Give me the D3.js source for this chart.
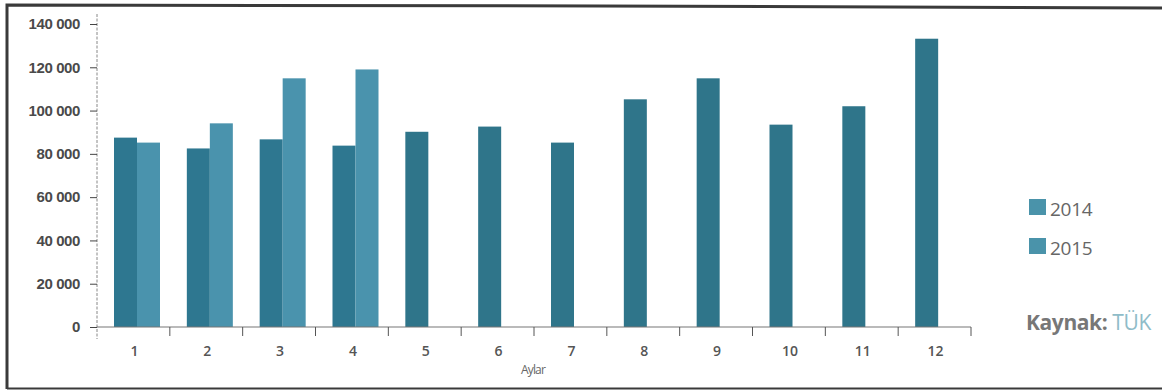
<!DOCTYPE html>
<html>
<head>
<meta charset="utf-8">
<script src="https://cdn.jsdelivr.net/npm/d3@7/dist/d3.min.js"></script>
<style>
  html, body { margin: 0; padding: 0; background: #fff; }
  svg { display: block; font-family: "Open Sans", "DejaVu Sans", sans-serif; }
</style>
</head>
<body>
<svg id="chart" width="1162" height="391"></svg>
<script>
// Monthly figures, 2014 and 2015 (2015 available through April)
const months = ["1", "2", "3", "4", "5", "6", "7", "8", "9", "10", "11", "12"];
const years = ["2014", "2015"];
const values2014 = [87500, 82500, 86700, 83800, 90200, 92600, 85200, 105200, 114900, 93500, 102000, 133200];
const values2015 = [85200, 94100, 114900, 119000, null, null, null, null, null, null, null, null];
const yTicks = [0, 20000, 40000, 60000, 80000, 100000, 120000, 140000];

const colors = { "2014": "#2e7790", "2015": "#4a93ad", single: "#2f758a", legend: "#4a93aa" };

const svg = d3.select("#chart");

// page frame
svg.append("path")
  .attr("d", "M7,389 L7,5 L600,6 L1162,8")
  .attr("fill", "none").attr("stroke", "#3a3a3a").attr("stroke-width", 3);
svg.append("line")
  .attr("x1", 7).attr("x2", 1162).attr("y1", 388.5).attr("y2", 388.5)
  .attr("stroke", "#3a3a3a").attr("stroke-width", 2);

const plot = { left: 97, right: 971, top: 24, bottom: 327 };

const x0 = d3.scaleBand().domain(months).range([plot.left, plot.right]).padding(0);
const x1 = d3.scaleBand().domain(years).range([17, 63]);
const y = d3.scaleLinear().domain([0, 140000]).range([plot.bottom, plot.top]);

const rows = months.map((m, i) => ({ m, v2014: values2014[i], v2015: values2015[i] }));

// bars
const g = svg.append("g");
rows.forEach(r => {
  const paired = r.v2015 != null;
  years.forEach(yr => {
    const v = yr === "2014" ? r.v2014 : r.v2015;
    if (v == null) return;
    g.append("rect")
      .attr("x", x0(r.m) + x1(yr))
      .attr("y", y(v))
      .attr("width", x1.bandwidth())
      .attr("height", y(0) - y(v))
      .attr("fill", paired ? colors[yr] : colors.single);
  });
});

// y axis
const yAxis = svg.append("g")
  .attr("transform", `translate(${plot.left},0)`)
  .call(d3.axisLeft(y).tickValues(yTicks).tickSize(7).tickPadding(10)
    .tickFormat(d => d === 0 ? "0" : d3.format(",")(d).replace(/,/g, " ")));
yAxis.select(".domain").attr("stroke", "#888").attr("stroke-dasharray", "3,1.5")
  .attr("d", `M0,${plot.top - 10}V${plot.bottom + 12}`);
yAxis.selectAll(".tick line").attr("stroke", "#444");
yAxis.selectAll("text").attr("fill", "#4a4a4a").attr("font-size", 15).attr("font-weight", 600)
  .attr("letter-spacing", -0.4);

// x axis line with boundary ticks
const xg = svg.append("g");
xg.append("line")
  .attr("x1", plot.left).attr("x2", plot.right)
  .attr("y1", plot.bottom).attr("y2", plot.bottom)
  .attr("stroke", "#777").attr("stroke-width", 1.2);
months.forEach((m, i) => {
  const xb = x0(m) + x0.step();
  xg.append("line")
    .attr("x1", xb).attr("x2", xb)
    .attr("y1", plot.bottom).attr("y2", plot.bottom + 9)
    .attr("stroke", "#555");
});
xg.selectAll("text.month").data(months).join("text")
  .attr("class", "month")
  .attr("x", d => x0(d) + x0.bandwidth() / 2 + 1)
  .attr("y", 356)
  .attr("text-anchor", "middle")
  .attr("fill", "#555").attr("font-size", 14).attr("font-weight", 600)
  .text(d => d);

svg.append("text")
  .attr("x", 533).attr("y", 374)
  .attr("text-anchor", "middle")
  .attr("fill", "#666").attr("font-size", 12).attr("letter-spacing", -0.8)
  .text("Aylar");

// legend
const legend = svg.append("g").attr("transform", "translate(1029,199)");
years.forEach((yr, i) => {
  const lg = legend.append("g").attr("transform", `translate(0,${i * 39})`);
  lg.append("rect").attr("width", 17).attr("height", 16).attr("fill", colors.legend);
  lg.append("text").attr("x", 21).attr("y", 17)
    .attr("fill", "#666").attr("font-size", 19).attr("letter-spacing", -0.3)
    .text(yr);
});

// source
const src = svg.append("text").attr("x", 1026).attr("y", 330)
  .attr("font-size", 21).attr("letter-spacing", -0.4);
src.append("tspan").attr("fill", "#777").attr("font-weight", 700).text("Kaynak: ");
src.append("tspan").attr("fill", "#8fbcc8").text("TÜK");
</script>
</body>
</html>
